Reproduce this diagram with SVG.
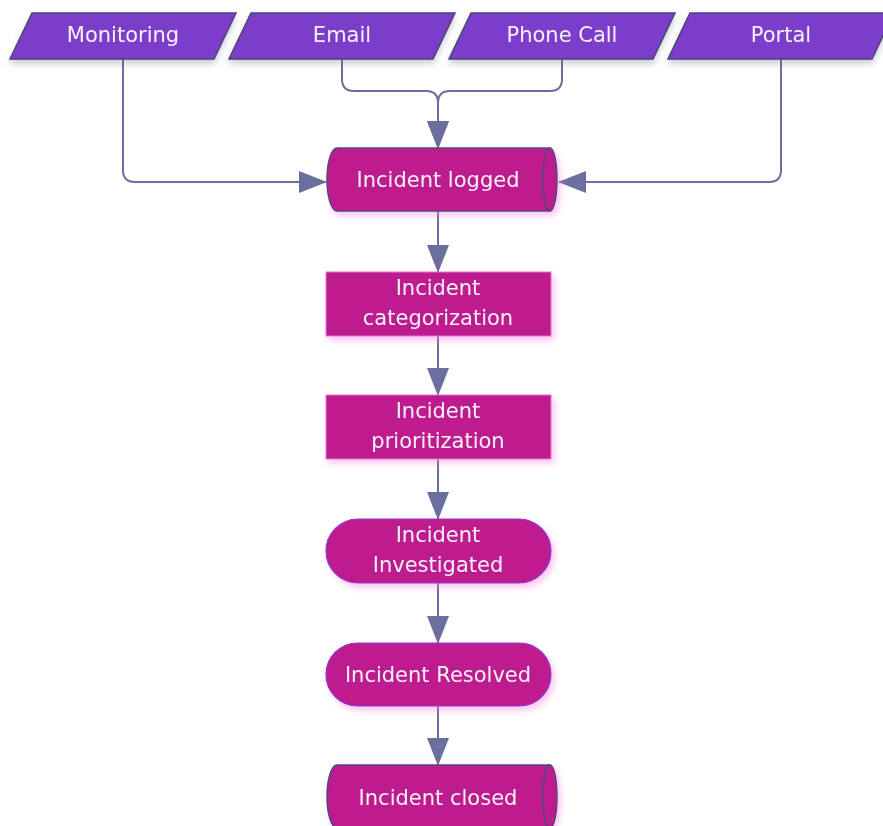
<svg xmlns="http://www.w3.org/2000/svg" width="883" height="826" viewBox="0 0 883 826">
<defs>
<style>
.lbl{font-family:"DejaVu Sans","Liberation Sans",sans-serif;font-size:21px;fill:#f7f2fa;text-anchor:middle}
.io{fill:#7d3dcb;stroke:#4b4670;stroke-width:1.5}
.proc{fill:#be1a8e}
.rect{stroke:#e27ad2;stroke-width:1}
.stad{stroke:#8a3ad0;stroke-width:1.2}
.cyl{stroke:#4e4a7c;stroke-width:1.5}
.edge{fill:none;stroke:#6b6f9e;stroke-width:2;marker-end:url(#arr)}
</style>
<marker id="arr" viewBox="0 0 28 22" refX="27" refY="11" markerWidth="28" markerHeight="22" markerUnits="userSpaceOnUse" orient="auto">
<path d="M0,0 L28,11 L0,22 Z" fill="#6b6f9e"/>
</marker>
<filter id="sh" x="-10%" y="-20%" width="120%" height="160%">
<feDropShadow dx="0" dy="4" stdDeviation="3" flood-color="#6a6a90" flood-opacity="0.35"/>
</filter>
<filter id="glow" x="-10%" y="-20%" width="125%" height="160%">
<feDropShadow dx="3" dy="4" stdDeviation="3" flood-color="#ff7ae0" flood-opacity="0.45"/>
</filter>
</defs>
<rect width="883" height="826" fill="#ffffff"/>

<g id="connectors">
<path class="edge" d="M123,59 V170 Q123,182 135,182 H326"/>
<path class="edge" d="M342,59 V79 Q342,91 354,91 H426 Q438,91 438,103 V148"/>
<path class="edge" d="M562,59 V79 Q562,91 550,91 H450 Q438,91 438,103 V148"/>
<path class="edge" d="M781,59 V170 Q781,182 769,182 H559"/>
<path class="edge" d="M438,211 V272"/>
<path class="edge" d="M438,336 V395"/>
<path class="edge" d="M438,459 V519"/>
<path class="edge" d="M438,583 V643"/>
<path class="edge" d="M438,706 V765"/>
</g>

<g id="monitoring" filter="url(#sh)">
<polygon class="io" points="32,13 236,13 214,59 10,59"/>
<text class="lbl" x="123" y="42">Monitoring</text>
</g>
<g id="email" filter="url(#sh)">
<polygon class="io" points="251,13 455,13 433,59 229,59"/>
<text class="lbl" x="342" y="42">Email</text>
</g>
<g id="phone-call" filter="url(#sh)">
<polygon class="io" points="471,13 675,13 653,59 449,59"/>
<text class="lbl" x="562" y="42">Phone Call</text>
</g>
<g id="portal" filter="url(#sh)">
<polygon class="io" points="690,13 894,13 872,59 668,59"/>
<text class="lbl" x="781" y="42">Portal</text>
</g>

<g id="incident-logged" filter="url(#glow)">
<path class="proc cyl" d="M337,148 H550 A7,31.5 0 0 1 550,211 H337 A10,31.5 0 0 1 337,148 Z"/>
<path fill="none" class="cyl" d="M550,148 A7,31.5 0 0 0 550,211"/>
<text class="lbl" x="438" y="187">Incident logged</text>
</g>

<g id="incident-categorization" filter="url(#glow)">
<rect class="proc rect" x="326" y="272" width="225" height="64"/>
<text class="lbl" x="438" y="295">Incident</text>
<text class="lbl" x="438" y="325">categorization</text>
</g>

<g id="incident-prioritization" filter="url(#glow)">
<rect class="proc rect" x="326" y="395" width="225" height="64"/>
<text class="lbl" x="438" y="418">Incident</text>
<text class="lbl" x="438" y="448">prioritization</text>
</g>

<g id="incident-investigated" filter="url(#glow)">
<rect class="proc stad" x="326" y="519" width="225" height="64" rx="32" ry="32"/>
<text class="lbl" x="438" y="542">Incident</text>
<text class="lbl" x="438" y="572">Investigated</text>
</g>

<g id="incident-resolved" filter="url(#glow)">
<rect class="proc stad" x="326" y="643" width="225" height="63" rx="31.5" ry="31.5"/>
<text class="lbl" x="438" y="682">Incident Resolved</text>
</g>

<g id="incident-closed" filter="url(#glow)">
<path class="proc cyl" d="M337,765 H550 A7,31.5 0 0 1 550,828 H337 A10,31.5 0 0 1 337,765 Z"/>
<path fill="none" class="cyl" d="M550,765 A7,31.5 0 0 0 550,828"/>
<text class="lbl" x="438" y="805">Incident closed</text>
</g>
</svg>
